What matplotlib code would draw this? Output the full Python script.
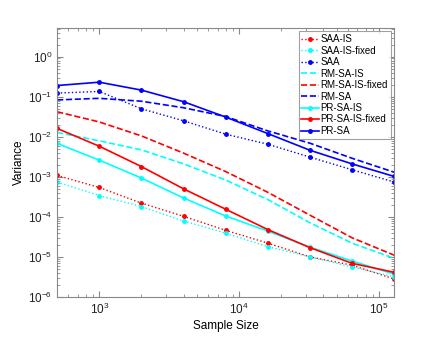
import matplotlib
matplotlib.use("Agg")
import matplotlib.pyplot as plt

plt.rcParams['font.family'] = ['Liberation Sans', 'DejaVu Sans']
plt.rcParams['mathtext.default'] = 'regular'

sample_size = [500, 1000, 2000, 4000, 8000, 16000, 32000, 64000, 128000]

saa_is = [1.08e-3, 5.4e-4, 2.2e-4, 1.03e-4, 4.6e-5, 2.2e-5, 1.0e-5, 6.2e-6, 2.8e-6]
saa_is_fixed = [7.4e-4, 3.4e-4, 1.8e-4, 7.9e-5, 3.9e-5, 1.8e-5, 1.0e-5, 5.6e-6, 3.2e-6]
saa = [0.123, 0.135, 0.050, 0.025, 0.0116, 0.0065, 0.0031, 0.0015, 0.00074]
rm_sa_is = [0.0128, 0.0079, 0.0047, 0.0021, 8.3e-4, 2.7e-4, 7.1e-5, 2.2e-5, 9.2e-6]
rm_sa_is_fixed = [0.042, 0.0234, 0.0105, 0.0039, 0.00135, 4.1e-4, 1.1e-4, 3.0e-5, 1.1e-5]
rm_sa = [0.083, 0.091, 0.077, 0.053, 0.032, 0.014, 0.0069, 0.0029, 0.0013]
pr_sa_is = [0.0068, 0.0026, 9.3e-4, 2.95e-4, 1.05e-4, 4.4e-5, 1.75e-5, 7.9e-6, 3.7e-6]
pr_sa_is_fixed = [0.0161, 0.0058, 0.0018, 5.0e-4, 1.55e-4, 4.8e-5, 1.7e-5, 6.9e-6, 4.1e-6]
pr_sa = [0.19, 0.23, 0.146, 0.075, 0.031, 0.012, 0.0046, 0.0021, 0.00102]

series = [
    ("SAA-IS", saa_is, 'red', ':', '.'),
    ("SAA-IS-fixed", saa_is_fixed, 'cyan', ':', '.'),
    ("SAA", saa, 'blue', ':', '.'),
    ("RM-SA-IS", rm_sa_is, 'cyan', '--', None),
    ("RM-SA-IS-fixed", rm_sa_is_fixed, 'red', '--', None),
    ("RM-SA", rm_sa, 'blue', '--', None),
    ("PR-SA-IS", pr_sa_is, 'cyan', '-', '.'),
    ("PR-SA-IS-fixed", pr_sa_is_fixed, 'red', '-', '.'),
    ("PR-SA", pr_sa, 'blue', '-', '.'),
]

fig = plt.figure(figsize=(4.36, 3.37), dpi=100)
ax = fig.add_axes([0.131, 0.119, 0.773, 0.798])

for name, vals, col, ls, mk in series:
    lw = 1.0 if ls == ':' else 1.2
    ax.plot(sample_size, vals, color=col, linestyle=ls, marker=mk,
            markersize=5, linewidth=lw, label=name)

ax.set_xscale('log')
ax.set_yscale('log')
ax.set_xlim(500, 128000)
ax.set_ylim(1e-6, 5.2)

ax.set_xlabel('Sample Size', fontsize=8.5, labelpad=2)
ax.set_ylabel('Variance', fontsize=8.5, labelpad=2)

for sp in ax.spines.values():
    sp.set_color('#888888')
    sp.set_linewidth(0.8)
ax.tick_params(which='both', direction='in', top=True, right=True,
               color='#888888', labelsize=8.5, labelcolor='#222222')
ax.tick_params(which='major', length=4)
ax.tick_params(which='minor', length=2)
ax.set_yticks([1e-6, 1e-5, 1e-4, 1e-3, 1e-2, 1e-1, 1e0])

leg = ax.legend(loc='upper right', fontsize=7, handlelength=1.8,
                handletextpad=0.15, labelspacing=0.15, borderpad=0.3,
                fancybox=False, borderaxespad=0.35)
leg.get_frame().set_edgecolor('#888888')
leg.get_frame().set_linewidth(0.8)

fig.savefig('out.png', dpi=100)
